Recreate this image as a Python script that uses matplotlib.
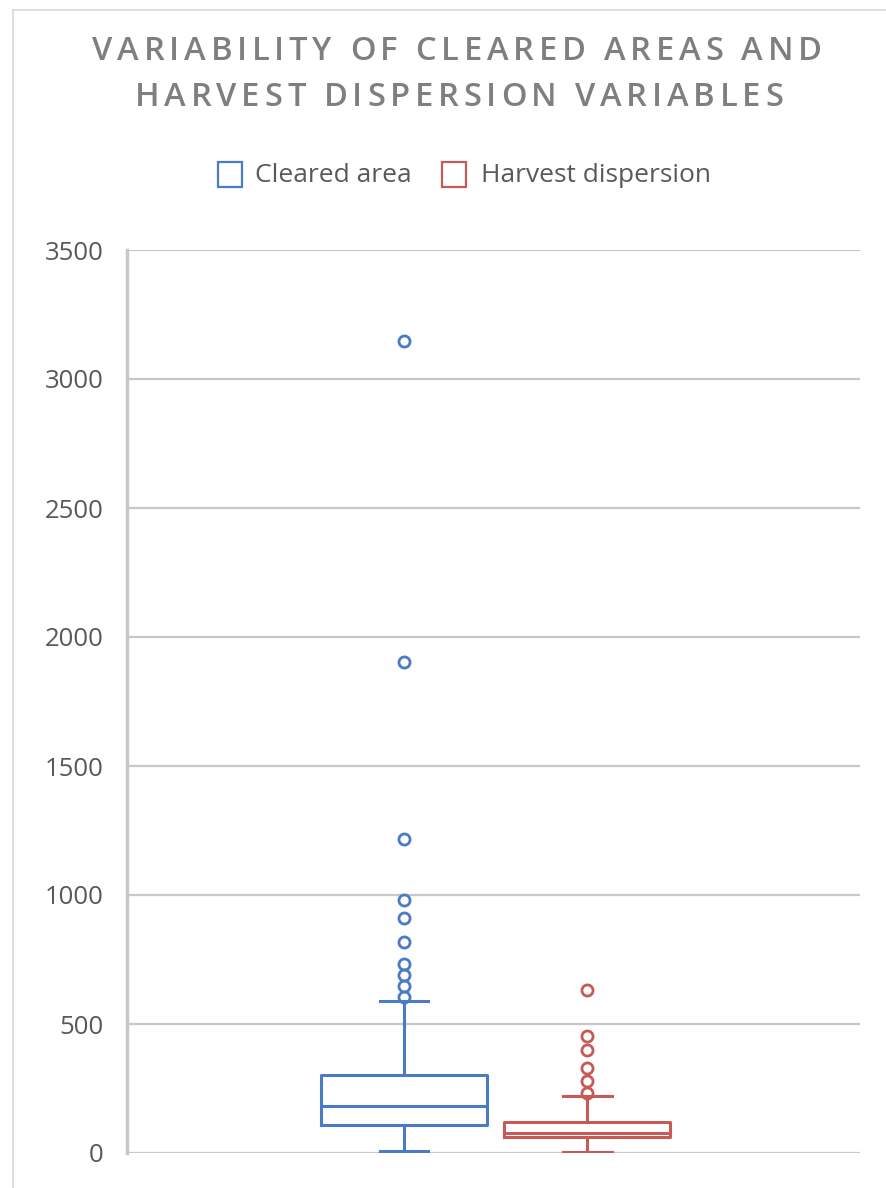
#!/usr/bin/env python

import matplotlib
matplotlib.use('Agg')
import matplotlib.pyplot as plt
from matplotlib.font_manager import FontProperties
from matplotlib.lines import Line2D
from matplotlib.patches import Rectangle


# ==================================================================
# Datos
series_names = ['Cleared area', 'Harvest dispersion']
whisker_low = [6, 5]
q1 = [110, 62]
medians = [181, 78]
q3 = [303, 121]
whisker_high = [590, 219]
outliers_cleared = [3147, 1903, 1217, 979, 909, 816, 734, 688, 646, 605]
outliers_harvest = [633, 455, 400, 329, 279, 233]
y_ticks = [0, 500, 1000, 1500, 2000, 2500, 3000, 3500]

title_lines = ['VARIABILITY OF CLEARED AREAS AND',
               'HARVEST DISPERSION VARIABLES']

colors = ['#4a7bc4', '#c55a57']
grid_color = '#c8c8c8'
text_color = '#595959'
title_color = '#7f7f7f'
FONT = 'Open Sans'

W, H = 887, 1188


# ==================================================================
def tracked_text(fig, renderer, s, cx, y, prop, tracking, color):
    """ Dibuja un texto con espacio extra entre letras, centrado en cx
        (coordenadas en pixeles)
    """
    widths = [renderer.get_text_width_height_descent(ch, prop, ismath=False)[0]
              for ch in s]
    total = sum(widths) + tracking * (len(s) - 1)
    x = cx - total / 2.0
    for ch, w in zip(s, widths):
        fig.text(x / W, 1 - y / H, ch, fontproperties=prop, color=color,
                 ha='left', va='center')
        x += w + tracking


# ==================================================================
fig = plt.figure(figsize=(W / 100.0, H / 100.0), dpi=100)
ax = fig.add_axes([127 / W, 1 - 1153 / H, (860 - 127) / W, (1153 - 250) / H])

stats = []
fliers = [outliers_cleared, outliers_harvest]
for i in range(2):
    stats.append({'med': medians[i], 'q1': q1[i], 'q3': q3[i],
                  'whislo': whisker_low[i], 'whishi': whisker_high[i],
                  'fliers': fliers[i], 'label': series_names[i]})

positions = [0.378, 0.628]
for i, st in enumerate(stats):
    c = colors[i]
    ax.bxp([st], positions=[positions[i]], widths=0.226, showfliers=True,
           boxprops=dict(color=c, linewidth=2.2),
           medianprops=dict(color=c, linewidth=2.2),
           whiskerprops=dict(color=c, linewidth=2.2),
           capprops=dict(color=c, linewidth=2.2),
           capwidths=0.066,
           flierprops=dict(marker='o', markerfacecolor='none',
                           markeredgecolor=c, markeredgewidth=2.0,
                           markersize=8))

ax.set_xlim(0, 1)
ax.set_ylim(0, 3500)
ax.set_xticks([])
ax.set_yticks(y_ticks)
ax.set_yticklabels([str(v) for v in y_ticks], fontfamily=FONT,
                   fontsize=18.5, color=text_color)
ax.tick_params(axis='y', length=0, pad=17)
ax.yaxis.grid(True, color=grid_color, linewidth=1.6)
ax.set_axisbelow(True)
for side in ['top', 'right', 'bottom']:
    ax.spines[side].set_visible(False)
ax.spines['left'].set_color(grid_color)
ax.spines['left'].set_linewidth(2.5)

# Borde del area del grafico
fig.add_artist(Line2D([13 / W, 1], [1 - 10 / H, 1 - 10 / H],
                      color='#d9d9d9', linewidth=1.2))
fig.add_artist(Line2D([13 / W, 13 / W], [0, 1 - 10 / H],
                      color='#d9d9d9', linewidth=1.2))

# Titulo con espaciado entre letras
fig.canvas.draw()
renderer = fig.canvas.get_renderer()
title_prop = FontProperties(family=FONT, weight='semibold', size=23.5)
tracked_text(fig, renderer, title_lines[0], 457, 52, title_prop, 4.8, title_color)
tracked_text(fig, renderer, title_lines[1], 459, 97, title_prop, 4.8, title_color)

# Leyenda
leg_items = [(218, 255), (442, 481)]
for i, (bx, tx) in enumerate(leg_items):
    fig.add_artist(Rectangle((bx / W, 1 - 187 / H), 24 / W, 25 / H,
                             facecolor='white', edgecolor=colors[i],
                             linewidth=1.6))
    fig.text(tx / W, 1 - 175 / H, series_names[i], fontfamily=FONT,
             fontsize=19, color=text_color, ha='left', va='center')

plt.savefig('out.png', dpi=100)
